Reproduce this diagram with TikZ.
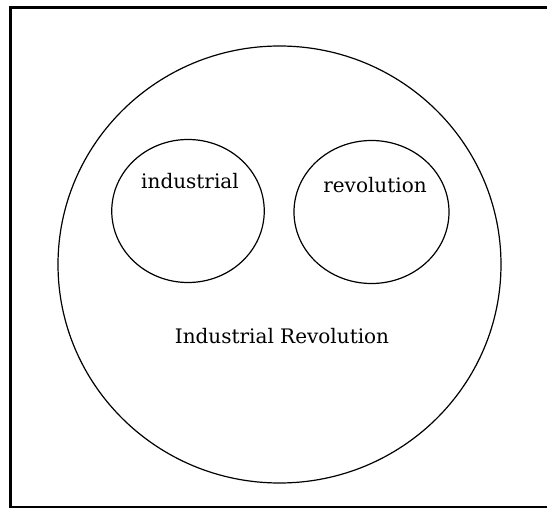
\documentclass[tikz,border=0pt]{standalone}
\usepackage{fontspec}
\setmainfont{DejaVu Serif}
\usetikzlibrary{shapes.geometric}
\begin{document}
\begin{tikzpicture}[x=1pt,y=-1pt,
  ring/.style={draw=black, line width=1.2pt, ellipse, inner sep=0pt},
  lbl/.style={anchor=base, inner sep=0pt, font=\fontsize{20}{24}\selectfont}]
\useasboundingbox (0,0) rectangle (547,508);
\draw[line width=3pt] (547,7.5) -- (10,7.5) -- (10,507) -- (547,507);
\node[ring, minimum width=443pt, minimum height=437pt] (big) at (279.5,264.5) {};
\node[ring, minimum width=152.5pt, minimum height=143pt] (ind) at (188,211) {};
\node[ring, minimum width=155pt, minimum height=143pt] (rev) at (371.5,212) {};
\node[lbl] (tind) at (190,189) {industrial};
\node[lbl] (trev) at (375,193) {revolution};
\node[lbl] (tir) at (282,344) {Industrial Revolution};
\end{tikzpicture}
\end{document}
